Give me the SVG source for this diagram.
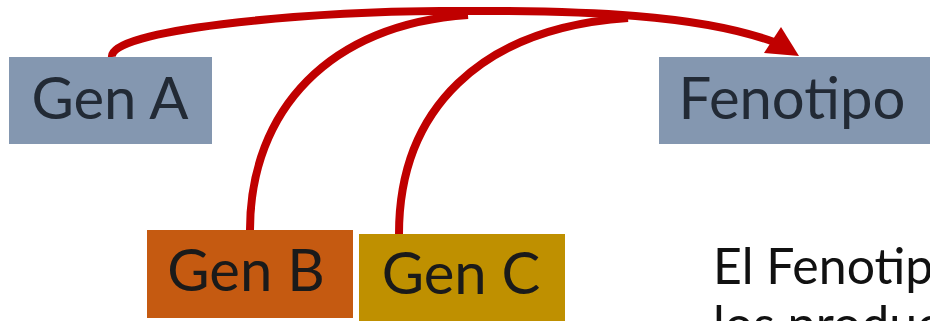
<svg xmlns="http://www.w3.org/2000/svg" width="930" height="321" viewBox="0 0 930 321">
<style>
.lbl{font-family:Lato,"Noto Sans",sans-serif;font-size:58px;text-anchor:middle}
.gray{fill:#8497B0}
.conn{fill:none;stroke:#C00000;stroke-width:8;stroke-linecap:butt}
.body{font-family:Lato,"Noto Sans",sans-serif;font-size:50px;fill:#111}
</style>
<rect width="930" height="321" fill="#fff"/>
<g id="connectors">
<path class="conn" d="M112,57 C108,30 300,12 440,11 C590,10 700,15 774,42"/>
<path class="conn" d="M250,230 C250,110 330,24 468,15"/>
<path class="conn" d="M399,234 C399,110 480,28 628,18"/>
<polygon points="781,27 799,56 764,53" fill="#C00000"/>
</g>
<g id="genA">
<rect class="gray" x="9" y="57" width="203" height="87"/>
<text class="lbl" x="110" y="119" fill="#222A35">Gen A</text>
</g>
<g id="fenotipo">
<rect class="gray" x="659" y="57" width="271" height="87"/>
<text class="lbl" x="792" y="119" fill="#222A35">Fenotipo</text>
</g>
<g id="genB">
<rect x="147" y="230" width="206" height="88" fill="#C55A11"/>
<text class="lbl" x="246" y="291" fill="#1a1a1a">Gen B</text>
</g>
<g id="genC">
<rect x="359" y="234" width="206" height="87" fill="#BF9000"/>
<text class="lbl" x="461" y="294" fill="#1a1a1a">Gen C</text>
</g>
<text class="body" x="713" y="284">El Fenotipo</text>
<text class="body" x="713" y="342">los productos</text>
</svg>
